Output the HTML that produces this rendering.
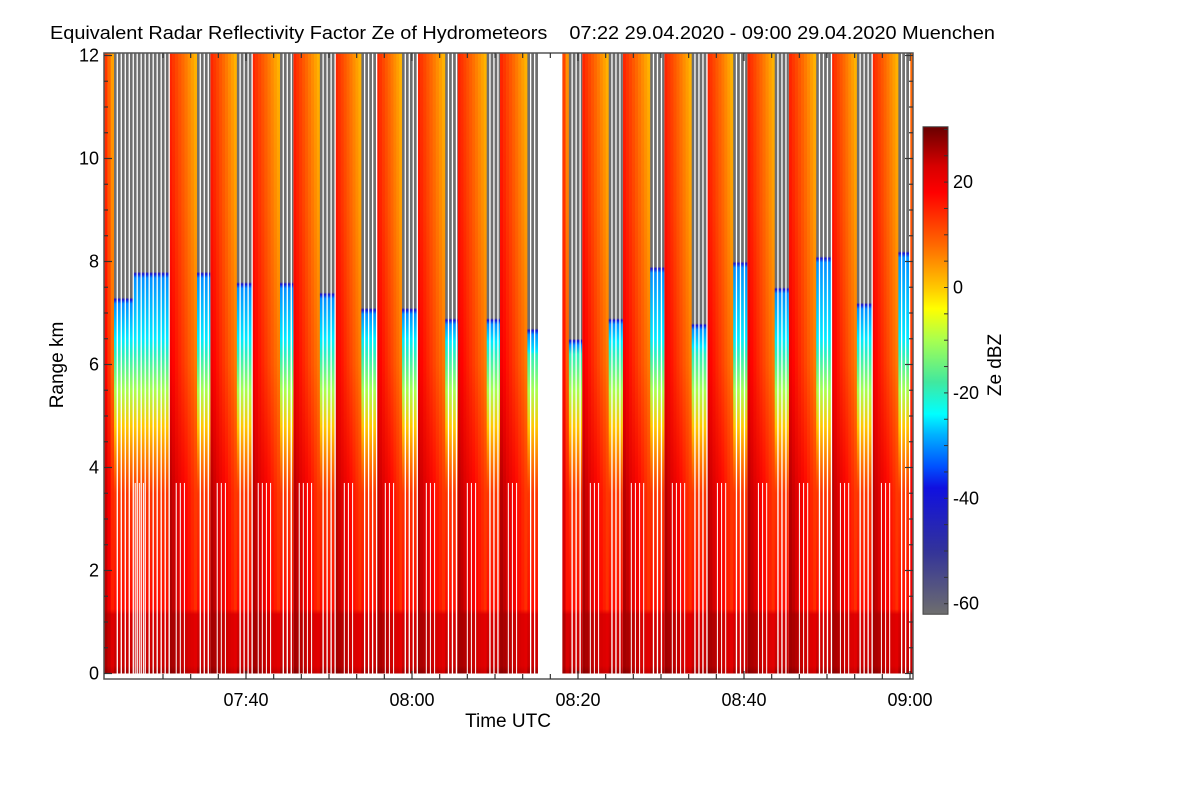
<!DOCTYPE html>
<html><head><meta charset="utf-8">
<style>
html,body{margin:0;padding:0;background:#fff;}
svg{display:block;font-family:"Liberation Sans",sans-serif;}
</style></head>
<body>
<svg id="chart" width="1200" height="800" viewBox="0 0 1200 800">
<defs id="defs"><clipPath id="plotclip"><rect x="104" y="53" width="809" height="620.5"/></clipPath>
<linearGradient id="cbgrad" x1="0" y1="1" x2="0" y2="0"></linearGradient></defs>
<text x="50" y="39" font-size="18" textLength="945" lengthAdjust="spacingAndGlyphs">Equivalent Radar Reflectivity Factor Ze of Hydrometeors&#160;&#160;&#160;&#160;07:22 29.04.2020 - 09:00 29.04.2020 Muenchen</text>
<g id="data" clip-path="url(#plotclip)"></g>
<g id="axes"></g>
<text x="508" y="727" font-size="19" text-anchor="middle">Time UTC</text>
<text transform="translate(63,365) rotate(-90)" font-size="19" text-anchor="middle">Range km</text>
<g id="colorbar"></g>
<text transform="translate(1001,365) rotate(-90)" font-size="19" text-anchor="middle">Ze dBZ</text>
</svg>
<script>
// ---- data ----
// stripe (sparse-scan) blocks, minutes after 07:00
const stripeStart = [24.1, 26.5, 34.1, 38.9, 44.1, 48.9, 53.9, 58.8, 64.0, 69.0, 73.9, 78.9, 83.7, 88.7, 93.7, 98.7, 103.7, 108.7, 113.6, 118.6];
const stripeEnd   = [26.5, 30.7, 35.7, 40.7, 45.7, 50.7, 55.7, 60.6, 65.5, 70.6, 75.3, 80.5, 85.4, 90.4, 95.5, 100.4, 105.4, 110.5, 115.4, 120.0];
const cloudTop    = [7.3, 7.8, 7.8, 7.6, 7.6, 7.4, 7.1, 7.1, 6.9, 6.9, 6.7, 6.5, 6.9, 7.9, 6.8, 8.0, 7.5, 8.1, 7.2, 8.2];
// data gap (no measurements)
const gapStart = [75.3];
const gapEnd = [78.1];
// vertical profiles (km -> dBZ)
const stripeHeights = [0, 0.15, 1.15, 1.25, 3.5, 4.2, 4.8, 5.5, 6.2];
const stripeDbz     = [27, 24, 23, 17, 13, 6, 0, -10, -20];
const solidHeights = [0, 0.15, 1.15, 1.25, 3.5, 6, 9, 12];
const solidDbz     = [27, 25, 25, 22, 21, 15, 12, 10];
const solidLeftOffset = 5, solidRightOffset = -9;
// colormap (dBZ -> colour)
const cmapDbz = [-62, -50, -38, -34, -28, -24, -18, -10, -4, 0, 8, 18, 23, 30];
const cmapCol = ['#6e6e6e','#33339a','#1010e0','#0050ff','#00b0ff','#00ffff','#40e8a0','#a8ff50','#ffff00','#ffc800','#ff6a00','#ff0000','#d80000','#700000'];
// axis ticks
const yTicks = [0, 2, 4, 6, 8, 10, 12];
const xTicks = [40, 60, 80, 100, 120];
const xTickLabels = ['07:40', '08:00', '08:20', '08:40', '09:00'];
const cbTicks = [20, 0, -20, -40, -60];

// ---- scales ----
const T0 = 22.9, T1 = 120.45;
function X(t){ return 246 + (t - 40) * 8.3; }
function Y(km){ return 673.5 - km * 51.5; }
function CBY(d){ return 287.5 - d * 5.27; }
function hex(c){ return [parseInt(c.substr(1,2),16),parseInt(c.substr(3,2),16),parseInt(c.substr(5,2),16)]; }
function cmap(d){
  if (d <= cmapDbz[0]) return cmapCol[0];
  for (let i=1;i<cmapDbz.length;i++){
    if (d <= cmapDbz[i]){
      const f=(d-cmapDbz[i-1])/(cmapDbz[i]-cmapDbz[i-1]);
      const a=hex(cmapCol[i-1]), b=hex(cmapCol[i]);
      return 'rgb('+a.map((v,k)=>Math.round(v+(b[k]-v)*f)).join(',')+')';
    }
  }
  return cmapCol[cmapCol.length-1];
}
const NS='http://www.w3.org/2000/svg';
const defs=document.getElementById('defs');
const dataG=document.getElementById('data');
const axesG=document.getElementById('axes');
let gid=0;
function mk(tag, attrs, parent){ const e=document.createElementNS(NS,tag); for(const k in attrs) e.setAttribute(k,attrs[k]); parent.appendChild(e); return e; }
function gradient(hs, ds){
  const id='g'+(gid++);
  const g=mk('linearGradient',{id:id,gradientUnits:'userSpaceOnUse',x1:0,x2:0,y1:Y(0),y2:Y(12.1)},defs);
  hs.forEach((h,i)=>mk('stop',{offset:Math.min(1,h/12.1),'stop-color':cmap(ds[i])},g));
  return id;
}

// ---- solid (dense-scan) blocks: gaps between stripe blocks ----
const solids=[];
let prev=T0;
const bounds=stripeStart.map((s,i)=>[s,stripeEnd[i]]).concat(gapStart.map((s,i)=>[s,gapEnd[i]])).sort((a,b)=>a[0]-b[0]);
bounds.forEach(b=>{ if (b[0]-prev>0.05) solids.push([prev,b[0]]); prev=Math.max(prev,b[1]); });
if (T1-prev>0.05) solids.push([prev,T1]);
solids.forEach(s=>{
  const x0=X(s[0]), x1=X(s[1]); const w=x1-x0; const n=Math.max(1,Math.round(w/3));
  for(let j=0;j<n;j++){
    const f=(j+0.5)/n; const off=solidLeftOffset+(solidRightOffset-solidLeftOffset)*f;
    const ds=solidDbz.map((d,k)=>d+off*(solidHeights[k]<1.2?0.4:1));
    const id=gradient(solidHeights, ds);
    const r=mk('rect',{x:x0+w*j/n,y:Y(12.2),width:w/n+0.4,height:Y(0)-Y(12.2)+1,fill:'url(#'+id+')'},dataG);
    
    
  }
});

// ---- stripe blocks ----
stripeStart.forEach((s,i)=>{
  const top=cloudTop[i];
  const hs=stripeHeights.slice(), ds=stripeDbz.slice();
  const base=Math.min(top-0.45, 6.5);
  if (base>hs[hs.length-1]) { hs.push(base); ds.push(-25); }
  hs.push(top-0.12); ds.push(-30);
  hs.push(top-0.04); ds.push(-40);
  hs.push(top); ds.push(-62);
  hs.push(12.1); ds.push(-62);
  const id=gradient(hs,ds);
  const x0=X(s), x1=X(stripeEnd[i]);
  const r=mk('rect',{x:x0,y:Y(12.2),width:x1-x0,height:Y(0)-Y(12.2)+1,fill:'url(#'+id+')'},dataG);
  
  
  for(let x=x0+2.6;x<x1;x+=4){
    const l=mk('rect',{x:x,y:Y(12.2),width:1.3,height:Y(0)-Y(12.2)+1,fill:'#fff'},dataG);
    
    
  }
});
// extra white scan gaps in lower region across the whole field
for(let x=106;x<913;x+=4.1){
  const t=40+(x-246)/8.3;
  if (((t-22.9)%5.0)>3.4) {
    const l=mk('rect',{x:x,y:Y(3.7),width:1.1,height:Y(0)-Y(3.7),fill:'#fff',opacity:0.9},dataG);
    
    
  }
}
// data gap
gapStart.forEach((s,i)=>{
  const g=mk('rect',{x:X(s),y:50,width:X(gapEnd[i])-X(s),height:630,fill:'#fff'},dataG);
  
  
});

// ---- axes ----
const ax=mk('rect',{x:104,y:53,width:809,height:626,fill:'none',stroke:'#555','stroke-width':1.5},axesG);


for(let t=40-3*20/6;t<=121;t+=20/6){
  const x=X(t); if(x<104||x>913) continue;
  const major=Math.abs(((t-40)%20+20)%20)<0.01 || Math.abs(((t-40)%20+20)%20-20)<0.01;
  const L=major?8:5;
  mk('line',{x1:x,x2:x,y1:679,y2:679-L,stroke:'#333','stroke-width':1.2},axesG);
  mk('line',{x1:x,x2:x,y1:53,y2:53+L,stroke:'#333','stroke-width':1.2},axesG);
}
xTicks.forEach((t,i)=>{
  const tx=mk('text',{x:X(t),y:706,'font-size':18,'text-anchor':'middle'},axesG);
  tx.textContent=xTickLabels[i];
  
  
});
for(let k=0;k<=12;k+=0.5){
  const y=Y(k); const L=(k%2===0)?8:4;
  mk('line',{x1:104,x2:104+L,y1:y,y2:y,stroke:'#333','stroke-width':1.2},axesG);
  mk('line',{x1:913,x2:913-L,y1:y,y2:y,stroke:'#333','stroke-width':1.2},axesG);
}
yTicks.forEach(k=>{
  const tx=mk('text',{x:99,y:Y(k)+6,'font-size':18,'text-anchor':'end'},axesG);
  tx.textContent=String(k);
  
  
});

// ---- colorbar ----
const cb=document.getElementById('colorbar');
const cbg=document.getElementById('cbgrad');
cbg.setAttribute('gradientUnits','userSpaceOnUse');
cbg.setAttribute('x1',0);cbg.setAttribute('x2',0);
cbg.setAttribute('y1',CBY(-62));cbg.setAttribute('y2',CBY(30.5));
cmapDbz.forEach((d,i)=>{ mk('stop',{offset:(Math.min(d,30.5)+62)/92.5,'stop-color':cmapCol[i]},cbg); });
const cbr=mk('rect',{x:923,y:CBY(30.5),width:25,height:CBY(-62)-CBY(30.5),fill:'url(#cbgrad)',stroke:'#444','stroke-width':1},cb);


for(let d=-60;d<=30;d+=5){
  mk('line',{x1:948,x2:944,y1:CBY(d),y2:CBY(d),stroke:'#333','stroke-width':1},cb);
}
cbTicks.forEach(d=>{
  const tx=mk('text',{x:953,y:CBY(d)+6,'font-size':18},cb);
  tx.textContent=String(d);
  
  
});
</script>
</body></html>
